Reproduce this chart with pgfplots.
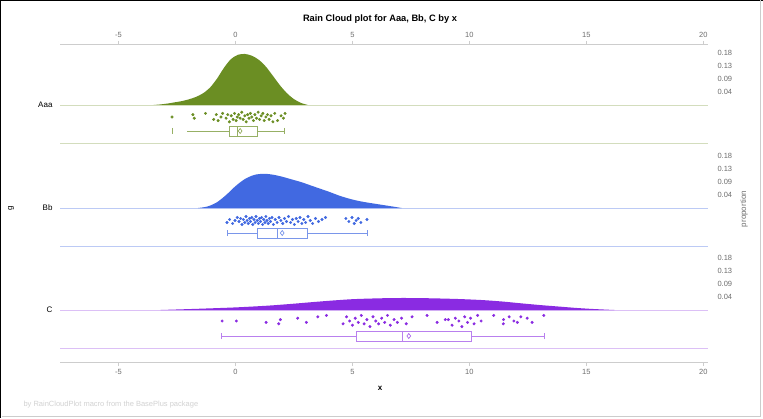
\documentclass[border=0pt]{standalone}
\usepackage{pgfplots}
\pgfplotsset{compat=1.18}
\usepgfplotslibrary{statistics}
\usepackage{fontspec}
\setmainfont{Liberation Sans}
\definecolor{colA}{RGB}{107,142,35}
\definecolor{colB}{RGB}{65,105,225}
\definecolor{colC}{RGB}{138,43,226}
\definecolor{axgray}{RGB}{205,205,205}
\definecolor{txtgray}{RGB}{110,110,110}

\begin{document}
\begin{tikzpicture}
\path[use as bounding box] (-60pt,-56pt) rectangle (703pt,362pt);
\fill[white] (-60pt,-56pt) rectangle (703pt,362pt);
\draw[black, line width=3pt] (-60pt,-56pt) -- (-60pt,362pt) -- (703pt,362pt);
\draw[gray!40, line width=1pt] (700pt,362pt) -- (700pt,-54.5pt) -- (-58pt,-54.5pt);

% main axis
\begin{axis}[
  scale only axis, width=648pt, height=317pt,
  xmin=-7.5, xmax=20.2, ymin=0, ymax=317,
  axis x line*=bottom, axis y line*=right,
  x axis line style={draw=axgray, line width=1pt},
  y axis line style={draw=none},
  xtick={-5,0,5,10,15,20},
  tick align=outside, major tick length=4pt,
  xtick style={draw=axgray, line width=0.8pt},
  xticklabel style={font=\fontsize{7.5}{8}\selectfont, text=txtgray},
  ytick={65,78,91,104,167,180,193,206,270,283,296,309},
  yticklabels={0.04,0.09,0.13,0.18,0.04,0.09,0.13,0.18,0.04,0.09,0.13,0.18},
  ytick style={draw=none},
  yticklabel style={font=\fontsize{7.5}{8}\selectfont, text=txtgray, xshift=2pt},
  /pgf/number format/assume math mode=true,
  clip=false,
]
% panel lines
\addplot[colA!30, line width=0.8pt] coordinates {(-7.5,257) (20.2,257)};
\addplot[colA!30, line width=0.8pt] coordinates {(-7.5,219) (20.2,219)};
\addplot[colB!35, line width=0.8pt] coordinates {(-7.5,154) (20.2,154)};
\addplot[colB!35, line width=0.8pt] coordinates {(-7.5,116) (20.2,116)};
\addplot[colC!30, line width=0.8pt] coordinates {(-7.5,52) (20.2,52)};
\addplot[colC!30, line width=0.8pt] coordinates {(-7.5,14) (20.2,14)};

% densities (proportion)
\addplot[fill=colA, draw=none, smooth] table[x=x, y expr=\thisrow{d}*295+257] {
x d
-3.5 0
-3.2 0.002
-2.9 0.005
-2.6 0.009
-2.3 0.013
-2.0 0.019
-1.7 0.027
-1.4 0.039
-1.1 0.058
-0.8 0.088
-0.5 0.125
-0.2 0.155
0.1 0.170
0.4 0.173
0.7 0.167
1.0 0.153
1.3 0.130
1.6 0.099
1.9 0.067
2.2 0.040
2.5 0.020
2.8 0.007
3.1 0
} -- cycle;

\addplot[fill=colB, draw=none, smooth] table[x=x, y expr=\thisrow{d}*295+154] {
x d
-1.6 0
-1.2 0.005
-0.8 0.019
-0.4 0.044
0.0 0.074
0.4 0.098
0.8 0.112
1.2 0.116
1.6 0.113
2.0 0.106
2.4 0.097
2.8 0.088
3.2 0.077
3.6 0.066
4.0 0.055
4.4 0.043
4.8 0.033
5.2 0.025
5.6 0.019
6.0 0.014
6.4 0.009
6.8 0.004
7.1 0
} -- cycle;

\addplot[fill=colC, draw=none, smooth] table[x=x, y expr=\thisrow{d}*295+52] {
x d
-3.2 0
-1.5 0.0044
0 0.0088
1.36 0.0146
2.5 0.0214
3.5 0.0281
4.92 0.0363
6.2 0.0397
7.2 0.0407
8.35 0.0397
9.5 0.0373
10.5 0.0339
11.4 0.0288
12.2 0.0227
13.0 0.0169
13.9 0.0112
14.6 0.0068
15.3 0.0034
16.2 0
} -- cycle;

% rain (jittered points)
\addplot[only marks, mark=*, mark size=1.3pt, colA] table[x=x, y expr=\thisrow{j}*1.2+245] {
x j
-2.71 0
-1.82 2
-1.76 -1
-1.28 3
-0.93 -2
-0.82 2
-0.74 -3
-0.62 0
-0.55 3
-0.40 -1
-0.33 2
-0.26 -4
-0.18 1
-0.10 -2
-0.04 3
0.03 -3
0.08 0
0.14 2
0.20 -1
0.27 4
0.33 -2
0.40 1
0.46 -4
0.52 2
0.58 -1
0.64 3
0.70 0
0.77 -3
0.83 2
0.90 -1
0.97 4
1.03 -2
1.10 1
1.17 3
1.23 -3
1.30 0
1.37 2
1.44 -2
1.52 1
1.60 -4
1.68 3
1.80 -3
1.95 1
2.05 -1
2.12 3
};

\addplot[only marks, mark=*, mark size=1.3pt, colB] table[x=x, y expr=\thisrow{j}+141.5] {
x j
-0.36 -2
-0.25 1
-0.12 -3
-0.02 0
0.08 3
0.15 -1
0.22 2
0.28 -4
0.34 1
0.40 -2
0.45 4
0.50 0
0.55 -3
0.60 2
0.64 -1
0.70 3
0.74 -4
0.79 1
0.84 -2
0.88 4
0.93 0
0.98 -3
1.03 2
1.07 -1
1.12 3
1.16 -4
1.21 1
1.26 -2
1.30 4
1.35 0
1.40 -3
1.45 2
1.50 -1
1.56 3
1.62 -4
1.70 1
1.78 -2
1.86 3
1.94 0
2.02 -3
2.10 2
2.18 -1
2.27 4
2.36 -2
2.44 1
2.52 -4
2.60 2
2.68 -1
2.76 3
2.84 -3
2.92 1
3.00 -2
3.10 4
3.20 0
3.30 -3
3.42 2
3.55 -1
3.70 1
3.85 3
4.72 2
4.85 -1
4.98 3
5.08 -3
5.16 0
5.25 2
5.36 -2
5.62 1
};

\addplot[only marks, mark=*, mark size=1.3pt, colC] table[x=x, y expr=\thisrow{j}*1.4+41] {
x j
-0.57 0
0.04 0
1.31 -1
1.85 -2
1.92 1
2.66 2
3.03 -1
3.52 3
3.89 4
4.60 -2
4.75 3
4.88 0
5.00 -3
5.12 2
5.25 -1
5.38 4
5.50 -2
5.62 1
5.75 -4
5.88 3
6.00 0
6.12 -2
6.25 2
6.38 -1
6.50 4
6.62 -3
6.78 1
6.92 -1
7.10 2
7.30 -2
7.55 3
8.19 4
8.62 -1
8.97 1
9.10 1
9.26 -3
9.40 2
9.55 0
9.68 -4
9.80 3
9.92 -1
10.05 2
10.20 -2
10.35 4
10.50 0
11.04 4
11.45 -2
11.46 1
11.70 3
11.90 0
12.05 -1
12.20 3
12.47 2
12.68 -1
13.18 4
};

% boxplots
\addplot[colA!70, line width=0.7pt, boxplot/draw direction=x,
  boxplot prepared={draw position=231, lower whisker=-2.09, lower quartile=-0.28,
  median=0.1, upper quartile=0.93, upper whisker=2.07, box extend=10, whisker extend=0}]
  coordinates {};
\addplot[colA!70, line width=0.7pt, mark=|, mark size=3pt, only marks] coordinates {(-2.71,231) (2.07,231)};
\addplot[colA!80, mark=diamond, mark size=2.5pt, only marks, line width=0.6pt] coordinates {(0.2,231)};

\addplot[colB!70, line width=0.7pt, boxplot/draw direction=x,
  boxplot prepared={draw position=129, lower whisker=-0.33, lower quartile=0.95,
  median=1.78, upper quartile=3.06, upper whisker=5.63, box extend=10, whisker extend=6}]
  coordinates {};
\addplot[colB!80, mark=diamond, mark size=2.5pt, only marks, line width=0.6pt] coordinates {(2.0,129)};

\addplot[colC!60, line width=0.7pt, boxplot/draw direction=x,
  boxplot prepared={draw position=26, lower whisker=-0.62, lower quartile=5.17,
  median=7.12, upper quartile=10.07, upper whisker=13.2, box extend=10, whisker extend=6}]
  coordinates {};
\addplot[colC!80, mark=diamond, mark size=2.5pt, only marks, line width=0.6pt] coordinates {(7.41,26)};
\end{axis}

% top axis
\begin{axis}[
  scale only axis, width=648pt, height=317pt,
  xmin=-7.5, xmax=20.2, ymin=0, ymax=317,
  axis x line*=top, axis y line=none,
  x axis line style={draw=axgray, line width=1pt},
  xtick={-5,0,5,10,15,20},
  tick align=outside, major tick length=4pt,
  xtick style={draw=axgray, line width=0.8pt},
  xticklabel style={font=\fontsize{7.5}{8}\selectfont, text=txtgray},
  /pgf/number format/assume math mode=true,
]
\addplot[draw=none] coordinates {(0,0)};
\end{axis}

% texts
\node[font=\bfseries\fontsize{9.3}{11}\selectfont] at (320pt,343pt) {Rain Cloud plot for Aaa, Bb, C by x};
\node[font=\bfseries\fontsize{8}{9}\selectfont] at (320pt,-26pt) {x};
\node[font=\fontsize{7.5}{9}\selectfont, text=gray!35, anchor=west] at (-40pt,-43pt) {by RainCloudPlot macro from the BasePlus package};
\node[font=\fontsize{8}{9}\selectfont, anchor=east] at (-4pt,257pt) {Aaa};
\node[font=\fontsize{8}{9}\selectfont, anchor=east] at (-4pt,154pt) {Bb};
\node[font=\fontsize{8}{9}\selectfont, anchor=east] at (-4pt,52pt) {C};
\node[font=\fontsize{8}{9}\selectfont, rotate=90] at (-49pt,154pt) {g};
\node[font=\fontsize{8}{9}\selectfont, text=txtgray, rotate=90] at (684pt,153pt) {proportion};
\end{tikzpicture}
\end{document}
